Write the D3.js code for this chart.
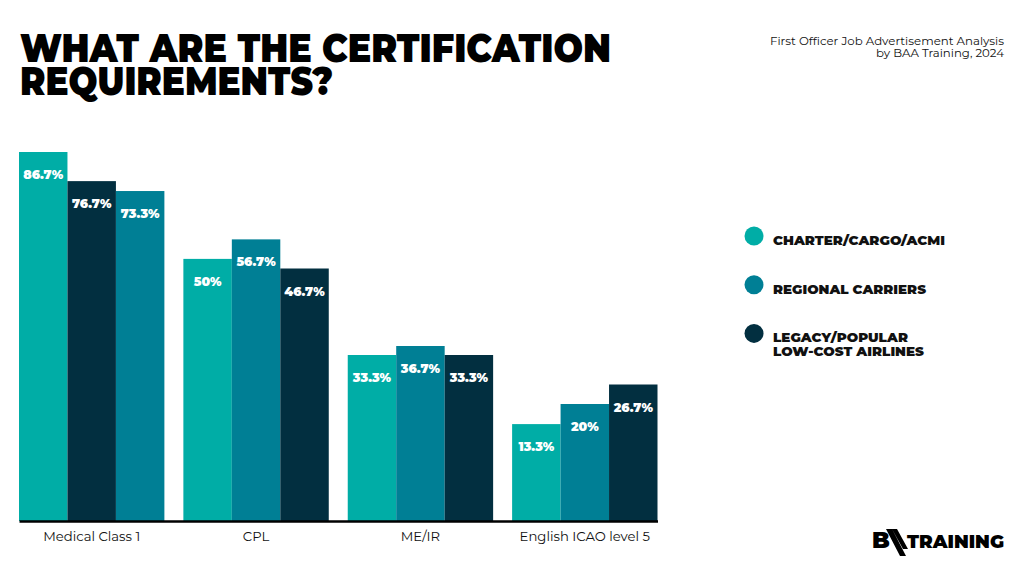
<!DOCTYPE html>
<html>
<head>
<meta charset="utf-8">
<script src="https://cdn.jsdelivr.net/npm/d3@7"></script>
<style>
  html, body { margin: 0; padding: 0; background: #ffffff; }
  svg { display: block; }
</style>
</head>
<body>
<svg id="chart" width="1024" height="580"></svg>
<script>
// ---- data ----
const categories = ["Medical Class 1", "CPL", "ME/IR", "English ICAO level 5"];
const seriesKeys = ["charter", "regional", "legacy"];
const seriesLabels = [["CHARTER/CARGO/ACMI"], ["REGIONAL CARRIERS"], ["LEGACY/POPULAR", "LOW-COST AIRLINES"]];
const charter = [86.7, 50, 33.3, 13.3];
const regional = [73.3, 56.7, 36.7, 20];
const legacy = [76.7, 46.7, 33.3, 26.7];
// order of the bars inside each category group, as in the original
const barOrder = [
  ["charter", "legacy", "regional"],
  ["charter", "regional", "legacy"],
  ["charter", "regional", "legacy"],
  ["charter", "regional", "legacy"]
];
const titleLines = ["WHAT ARE THE CERTIFICATION", "REQUIREMENTS?"];
const sourceLines = ["First Officer Job Advertisement Analysis", "by BAA Training, 2024"];

// ---- styles ----
const colors = { charter: "#00ADA6", regional: "#007F95", legacy: "#022F40" };
const values = { charter, regional, legacy };
const headFont = "Montserrat, Lato, Inter, 'DejaVu Sans', sans-serif";
const bodyFont = "Montserrat, 'Noto Sans', 'Open Sans', sans-serif";
const legendWidths = [[172], [153], [135, 151]];
const titleWidths = [591, 313];
const sourceWidths = [234, 128];

const svg = d3.select("#chart");
const baseline = 521;

// group scale
const x0 = d3.scaleBand().domain(categories).range([19, 657.5]).paddingInner(0.1155).paddingOuter(0);
const x1 = d3.scaleBand().domain([0, 1, 2]).range([0, x0.bandwidth()]).padding(0);
// bar height scale (the original infographic uses a non-uniform, piecewise scale)
const y = d3.scaleLinear()
  .domain([0, 20, 26.7, 33.3, 36.7, 46.7, 86.7, 100])
  .range([464, 404, 384.5, 355, 346, 268.5, 152, 113.5]);

// title: drawn at 31px and stretched vertically to the poster's tall type
const titleG = svg.append("g").attr("transform", "translate(20,0) scale(1,1.26)");
titleG.selectAll("text").data(titleLines).join("text")
  .attr("x", 0).attr("y", (d, i) => (62 + i * 33) / 1.26)
  .attr("font-family", headFont).attr("font-weight", 900).attr("font-size", 31)
  .attr("fill", "#000")
  .attr("textLength", (d, i) => titleWidths[i])
  .attr("lengthAdjust", "spacingAndGlyphs")
  .text(d => d);

// source
svg.append("g").selectAll("text").data(sourceLines).join("text")
  .attr("x", 1004).attr("y", (d, i) => 45 + i * 11.5)
  .attr("text-anchor", "end")
  .attr("font-family", bodyFont).attr("font-size", 10.6).attr("fill", "#111")
  .attr("textLength", (d, i) => sourceWidths[i])
  .attr("lengthAdjust", "spacingAndGlyphs")
  .text(d => d);

// bars
const rows = categories.map((c, i) => barOrder[i].map((k, j) => ({ cat: c, key: k, slot: j, v: values[k][i] })));
const groups = svg.append("g").selectAll("g").data(rows).join("g")
  .attr("transform", (d, i) => `translate(${x0(categories[i])},0)`);

groups.selectAll("rect").data(d => d).join("rect")
  .attr("x", d => x1(d.slot))
  .attr("y", d => y(d.v))
  .attr("width", x1.bandwidth())
  .attr("height", d => baseline - y(d.v))
  .attr("fill", d => colors[d.key]);

groups.selectAll("text").data(d => d).join("text")
  .attr("x", d => x1(d.slot) + x1.bandwidth() / 2)
  .attr("y", d => y(d.v) + 27)
  .attr("text-anchor", "middle")
  .attr("font-family", headFont).attr("font-weight", 900).attr("font-size", 12.5)
  .attr("fill", "#fff")
  .text(d => d.v + "%");

// axis
const axis = svg.append("g").attr("transform", `translate(0,${baseline})`)
  .call(d3.axisBottom(x0).tickSize(0).tickSizeOuter(0).tickPadding(11));
axis.select(".domain").attr("stroke", "#000").attr("stroke-width", 2.5);
axis.selectAll("text").attr("font-family", bodyFont).attr("font-size", 13.2).attr("fill", "#111");

// legend
const legend = svg.append("g").selectAll("g").data(seriesKeys).join("g")
  .attr("transform", (d, i) => `translate(754,${236 + i * 48.7})`);
legend.append("circle").attr("r", 9.5).attr("fill", d => colors[d]);
legend.each(function (d, i) {
  d3.select(this).selectAll("text").data(seriesLabels[i]).join("text")
    .attr("x", 19).attr("y", (s, j) => 9 + j * 13.5)
    .attr("font-family", headFont).attr("font-weight", 900).attr("font-size", 12.5)
    .attr("fill", "#111")
    .attr("textLength", (s, j) => legendWidths[i][j])
    .attr("lengthAdjust", "spacingAndGlyphs")
    .text(s => s);
});

// logo
const logo = svg.append("g").attr("transform", "translate(872,527)");
logo.append("text").attr("x", 0).attr("y", 21)
  .attr("font-family", headFont).attr("font-weight", 900).attr("font-size", 23).attr("fill", "#000")
  .text("B");
logo.append("path")
  .attr("d", "M14,2 L20,2 L34,29 L28,29 Z M20,2 L25,2 L36,22 L31,22 Z")
  .attr("fill", "#000");
logo.append("text").attr("x", 35).attr("y", 21)
  .attr("font-family", headFont).attr("font-weight", 900).attr("font-size", 17.5).attr("fill", "#000")
  .attr("textLength", 97).attr("lengthAdjust", "spacingAndGlyphs")
  .text("TRAINING");
</script>
</body>
</html>
